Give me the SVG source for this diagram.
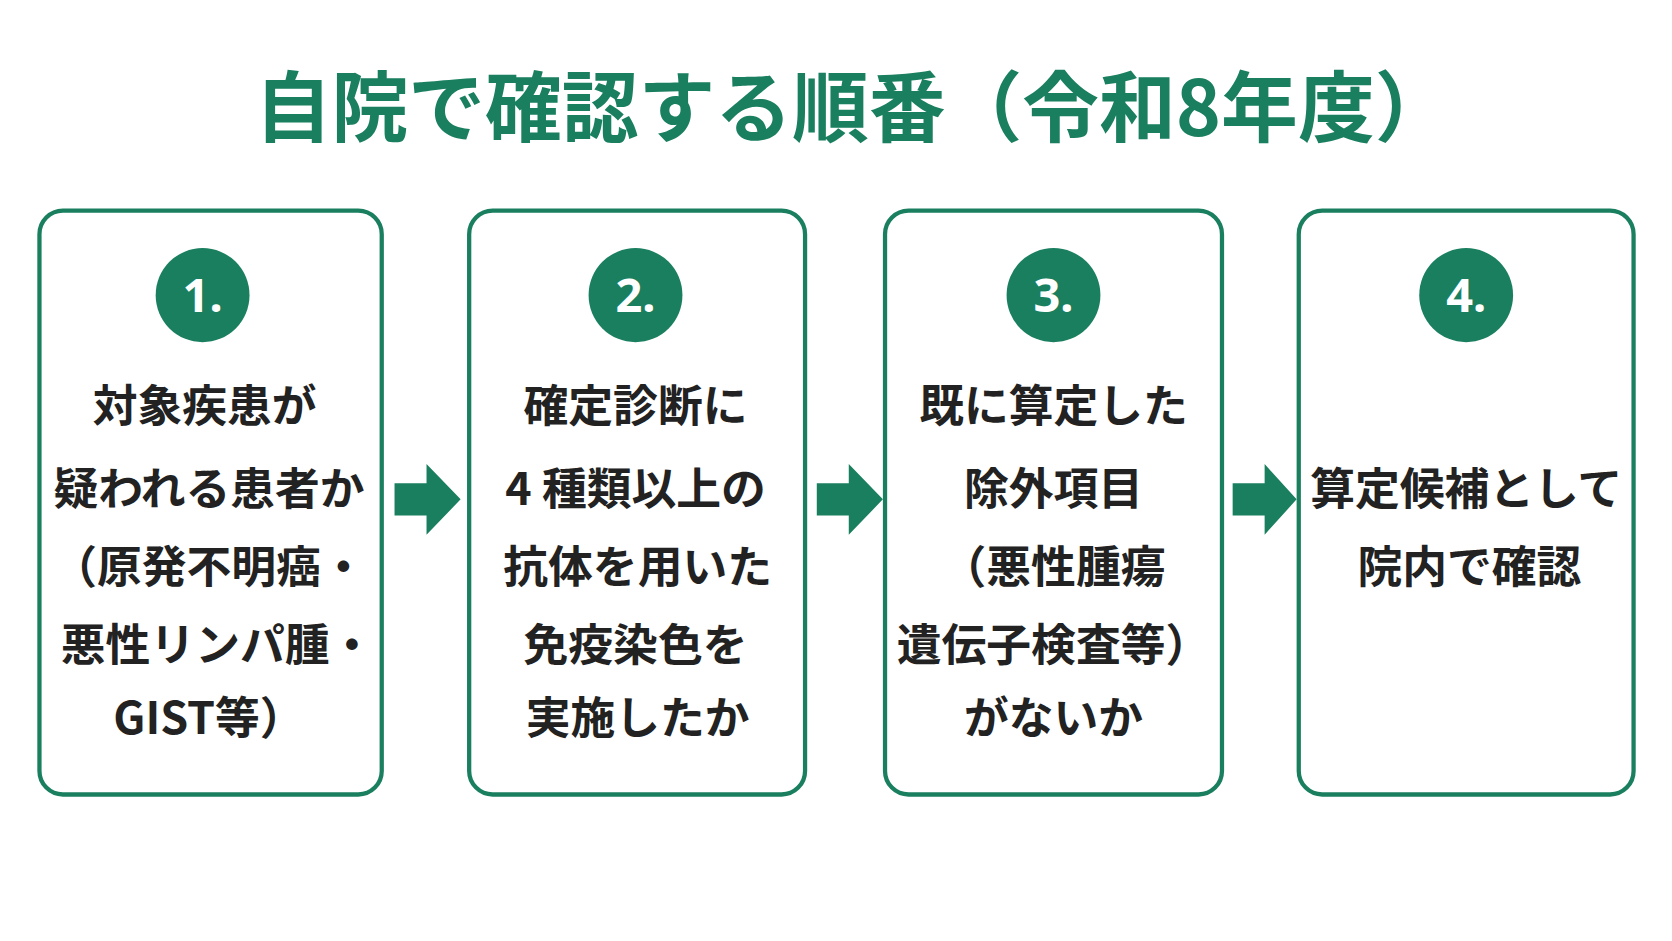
<svg xmlns="http://www.w3.org/2000/svg" width="1672" height="941" viewBox="0 0 1672 941">
<style>
.box{fill:#fff;stroke:#1a7f5f;stroke-width:4}
.num{fill:#1a7f5f}
.nt{fill:#fff;font-family:"Noto Sans","Noto Sans CJK JP",sans-serif;font-weight:bold;font-size:44px;text-anchor:middle}
.t{fill:#222;font-family:"Noto Sans CJK JP",sans-serif;font-weight:bold;font-size:42px;text-anchor:middle}
.arr{fill:#1a7f5f}
</style>
<rect width="1672" height="941" fill="#fff"/>
<g transform="scale(1.0663 1.0693)">
<text x="800" y="127" text-anchor="middle" font-family="Noto Sans CJK JP,sans-serif" font-weight="bold" font-size="72" fill="#1a7f5f">自院で確認する順番（令和8年度）</text>
<g id="connectors">
<polygon class="arr" points="370,452 400,452 400,434 432,467 400,500 400,482 370,482"/>
<polygon class="arr" points="766,452 796,452 796,434 828,467 796,500 796,482 766,482"/>
<polygon class="arr" points="1156,452 1186,452 1186,434 1216,467 1186,500 1186,482 1156,482"/>
</g>
<g id="node1">
<rect class="box" x="37" y="197" width="321" height="546" rx="22"/>
<circle class="num" cx="190" cy="276" r="44"/><text class="nt" x="190" y="292">1.</text>
<text class="t" x="192" y="395">対象疾患が</text>
<text class="t" x="196" y="472">疑われる患者か</text>
<text class="t" x="196" y="545">（原発不明癌・</text>
<text class="t" x="204" y="618">悪性リンパ腫・</text>
<text class="t" x="196" y="686">GIST等）</text>
</g>
<g id="node2">
<rect class="box" x="440" y="197" width="315" height="546" rx="22"/>
<circle class="num" cx="596" cy="276" r="44"/><text class="nt" x="596" y="292">2.</text>
<text class="t" x="596" y="395">確定診断に</text>
<text class="t" x="596" y="472">4 種類以上の</text>
<text class="t" x="598" y="545">抗体を用いた</text>
<text class="t" x="596" y="618">免疫染色を</text>
<text class="t" x="598" y="686">実施したか</text>
</g>
<g id="node3">
<rect class="box" x="830" y="197" width="316" height="546" rx="22"/>
<circle class="num" cx="988" cy="276" r="44"/><text class="nt" x="988" y="292">3.</text>
<text class="t" x="988" y="395">既に算定した</text>
<text class="t" x="988" y="472">除外項目</text>
<text class="t" x="988" y="545">（悪性腫瘍</text>
<text class="t" x="988" y="618">遺伝子検査等）</text>
<text class="t" x="988" y="686">がないか</text>
</g>
<g id="node4">
<rect class="box" x="1218" y="197" width="314" height="546" rx="22"/>
<circle class="num" cx="1375" cy="276" r="44"/><text class="nt" x="1375" y="292">4.</text>
<text class="t" x="1375" y="472">算定候補として</text>
<text class="t" x="1378" y="545">院内で確認</text>
</g>
</g>
</svg>
